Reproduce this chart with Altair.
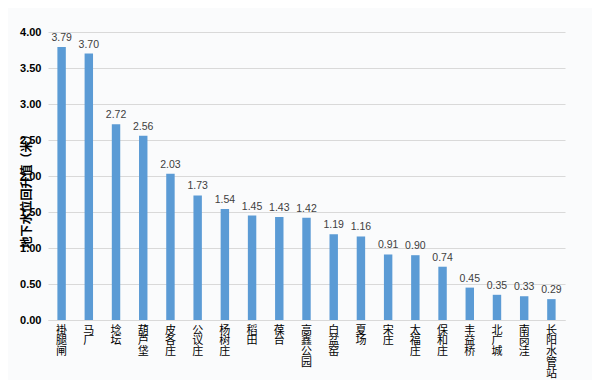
import altair as alt
import pandas as pd

stations = ["褂腿闸", "马厂", "埝坛", "葫芦垡", "皮各庄", "公议庄", "杨树庄", "稻田", "葆台",
            "高鑫公园", "白盆窑", "夏场", "宋庄", "太福庄", "保和庄", "丰益桥", "北广城",
            "南岗洼", "长阳水管站"]
rise = [3.79, 3.70, 2.72, 2.56, 2.03, 1.73, 1.54, 1.45, 1.43, 1.42, 1.19, 1.16, 0.91,
        0.90, 0.74, 0.45, 0.35, 0.33, 0.29]
y_ticks = [0, 0.5, 1.0, 1.5, 2.0, 2.5, 3.0, 3.5, 4.0]

df = pd.DataFrame({"station": stations, "rise": rise})

x = alt.X("station:N", sort=stations, title=None,
          scale=alt.Scale(paddingInner=0.69, paddingOuter=0.345),
          axis=alt.Axis(labelAngle=0, labelExpr="split(datum.label, '')",
                        labelFont="Noto Sans CJK SC", labelFontSize=11,
                        labelLineHeight=10.8, labelColor="#000000",
                        labelBaseline="top", labelPadding=4, labelOverlap=False,
                        ticks=False, domain=True, domainColor="#d9d9d9",
                        grid=False))
y = alt.Y("rise:Q", title="地下水位回升值（米）",
          scale=alt.Scale(domain=[0, 4], nice=False),
          axis=alt.Axis(values=y_ticks, tickCount=9, format=".2f", labelFont="Liberation Sans",
                        labelFontWeight="bold", labelFontSize=11, labelColor="#000000",
                        labelPadding=7, labelOverlap=False, labelBound=False,
                        ticks=False, domain=False,
                        gridColor="#d9d9d9", gridWidth=1,
                        titleFont="Noto Sans CJK SC", titleFontSize=12,
                        titleFontWeight="bold", titleColor="#000000",
                        titleX=-15, titleY=156))

bars = alt.Chart(df).mark_bar(color="#5b9bd5").encode(x=x, y=y)
labels = alt.Chart(df).mark_text(dy=-9, font="Liberation Sans", fontSize=10.5,
                                 color="#404040").encode(
    x=x, y=y,
    text=alt.Text("rise:Q", format=".2f"))

chart = (bars + labels).properties(
    width=517, height=288,
    autosize=alt.AutoSizeParams(type="none"),
    padding={"left": 40, "top": 24, "right": 27, "bottom": 60},
    background="#fafbfc",
).configure_view(stroke=None)

chart.save("out.html", embed_options={"renderer": "svg", "actions": False})
